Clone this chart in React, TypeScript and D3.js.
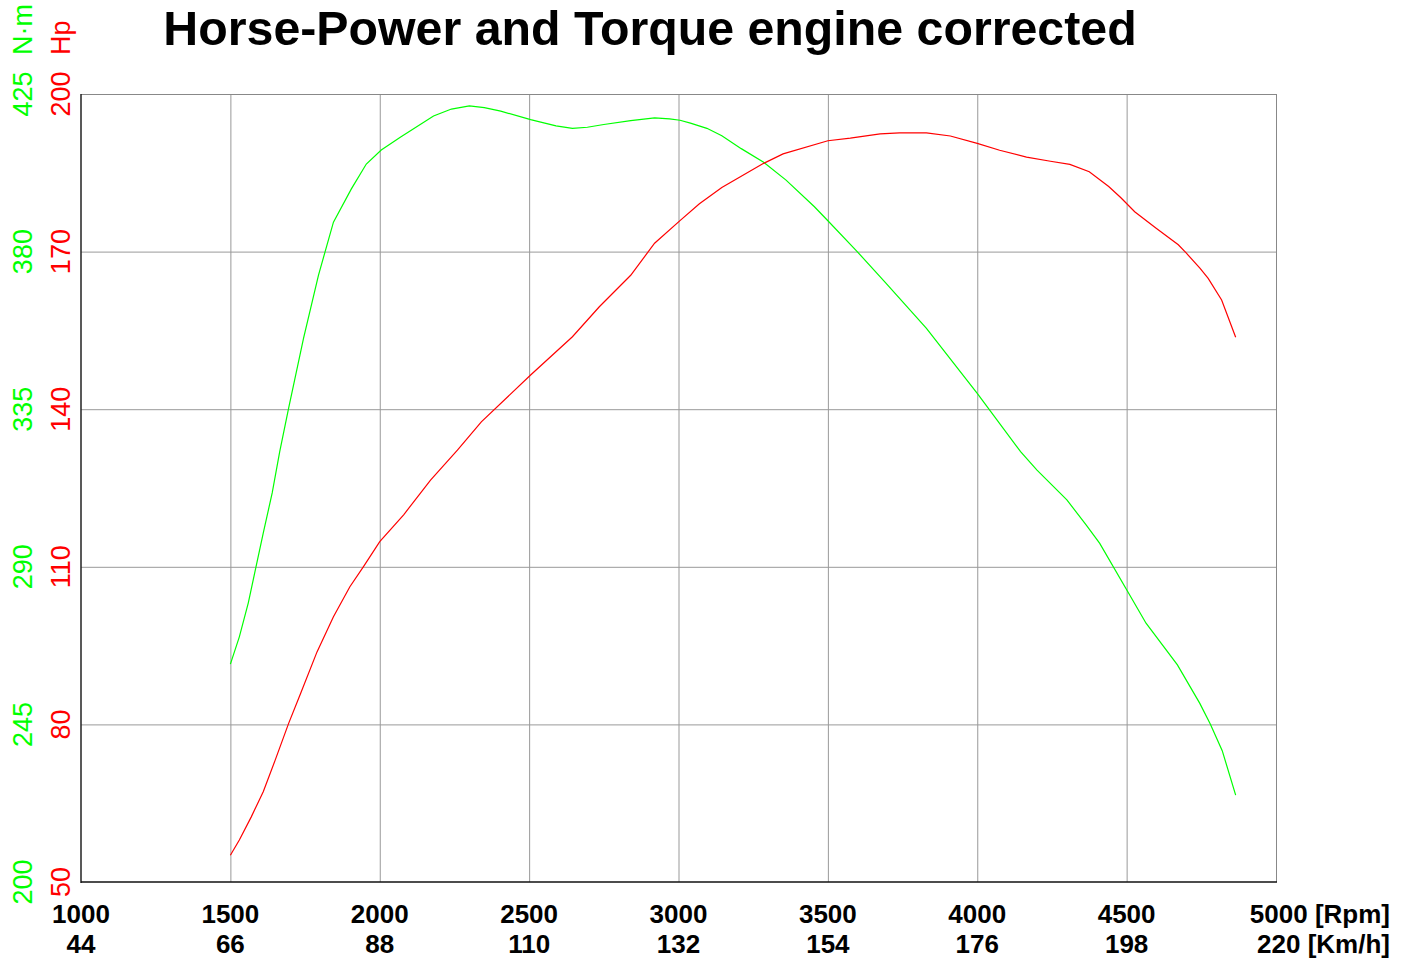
import React, { useEffect, useRef } from "react";
import * as d3 from "d3";

const title = "Horse-Power and Torque engine corrected";

const rpmTicks = [1000, 1500, 2000, 2500, 3000, 3500, 4000, 4500, 5000];
const kmhLabels = [44, 66, 88, 110, 132, 154, 176, 198, 220];
const hpTicks = [50, 80, 110, 140, 170, 200];
const nmLabels = [200, 245, 290, 335, 380, 425];

// torque curve (N·m)
const torqueRpm = [1500, 1530, 1560, 1585, 1610, 1640, 1665, 1695, 1715, 1745, 1795, 1845, 1905, 1955, 2005, 2070, 2180, 2240, 2300, 2350, 2405, 2505, 2590, 2645, 2695, 2750, 2840, 2920, 2970, 3005, 3040, 3095, 3145, 3210, 3285, 3360, 3455, 3500, 3595, 3695, 3830, 4000, 4145, 4200, 4300, 4365, 4410, 4520, 4565, 4670, 4745, 4780, 4820, 4865];
const torqueNm = [262.2, 270.0, 279.7, 289.7, 299.6, 311.1, 322.8, 335.3, 343.3, 355.3, 373.3, 388.4, 397.9, 405.0, 409.0, 412.7, 418.7, 420.7, 421.6, 421.1, 420.1, 417.7, 415.9, 415.2, 415.5, 416.3, 417.4, 418.2, 417.9, 417.5, 416.7, 415.2, 413.1, 409.4, 405.5, 400.4, 392.8, 388.8, 380.3, 370.9, 358.1, 339.5, 322.9, 317.6, 309.1, 301.9, 296.7, 280.5, 273.9, 262.0, 251.0, 245.1, 237.5, 224.8];

// power curve (Hp)
const powerRpm = [1500, 1530, 1570, 1610, 1650, 1695, 1735, 1790, 1845, 1900, 1945, 2000, 2080, 2170, 2260, 2340, 2505, 2645, 2735, 2840, 2920, 3005, 3070, 3145, 3285, 3350, 3500, 3575, 3675, 3740, 3830, 3910, 4000, 4075, 4165, 4245, 4310, 4375, 4440, 4480, 4527, 4600, 4673, 4700, 4746, 4773, 4818, 4865];
const powerHp = [55.1, 58.0, 62.4, 67.2, 73.2, 80.2, 85.9, 93.8, 100.5, 106.2, 110.0, 114.8, 119.9, 126.5, 132.2, 137.6, 146.5, 153.8, 159.5, 165.5, 171.6, 175.9, 179.1, 182.2, 186.8, 188.6, 191.1, 191.6, 192.4, 192.6, 192.6, 192.0, 190.6, 189.3, 188.0, 187.2, 186.6, 185.2, 182.4, 180.3, 177.6, 174.4, 171.3, 169.7, 166.8, 164.9, 160.8, 153.7];

const width = 1406;
const height = 960;
const marginTop = 94;
const marginRight = 130;
const marginBottom = 78;
const marginLeft = 81;
const font = "'Liberation Sans', Arial, sans-serif";

const App = () => {
  const svgRef = useRef<SVGSVGElement>(null);

  useEffect(() => {
    const svg = d3.select(svgRef.current);
    svg.selectAll("*").remove();

    const x = d3.scaleLinear().domain([1000, 5000]).range([marginLeft, width - marginRight]);
    const yHp = d3.scaleLinear().domain([50, 200]).range([height - marginBottom, marginTop]);
    const yNm = d3.scaleLinear().domain([200, 425]).range([height - marginBottom, marginTop]);

    const x0 = x(1000), x1 = x(5000), y0 = yHp(50), y1 = yHp(200);

    // grid
    svg.append("g")
      .selectAll("line")
      .data(rpmTicks.slice(1, -1))
      .join("line")
      .attr("x1", d => x(d) + 0.5).attr("x2", d => x(d) + 0.5)
      .attr("y1", y1).attr("y2", y0)
      .attr("stroke", "#999").attr("stroke-width", 1);

    svg.append("g")
      .selectAll("line")
      .data(hpTicks.slice(1, -1))
      .join("line")
      .attr("x1", x0).attr("x2", x1)
      .attr("y1", d => yHp(d) + 0.5).attr("y2", d => yHp(d) + 0.5)
      .attr("stroke", "#999").attr("stroke-width", 1);

    // frame
    svg.append("line").attr("x1", x0).attr("x2", x1).attr("y1", y1 + 0.5).attr("y2", y1 + 0.5).attr("stroke", "#888");
    svg.append("line").attr("x1", x1 + 0.5).attr("x2", x1 + 0.5).attr("y1", y1).attr("y2", y0).attr("stroke", "#888");
    svg.append("line").attr("x1", x0).attr("x2", x0).attr("y1", y1).attr("y2", y0 + 1).attr("stroke", "#222").attr("stroke-width", 1.5);
    svg.append("line").attr("x1", x0).attr("x2", x1 + 1).attr("y1", y0).attr("y2", y0).attr("stroke", "#111").attr("stroke-width", 1.5);

    // curves
    const torque = torqueRpm.map((r, i) => [x(r), yNm(torqueNm[i])] as [number, number]);
    const power = powerRpm.map((r, i) => [x(r), yHp(powerHp[i])] as [number, number]);
    const line = d3.line();

    svg.append("path").attr("d", line(torque)).attr("fill", "none").attr("stroke", "#00ff00").attr("stroke-width", 1.2);
    svg.append("path").attr("d", line(power)).attr("fill", "none").attr("stroke", "#ff0000").attr("stroke-width", 1.2);

    // title
    svg.append("text")
      .attr("x", 650).attr("y", 45)
      .attr("text-anchor", "middle")
      .style("font-family", font).style("font-weight", "bold").style("font-size", "48.3px")
      .text(title);

    // x labels
    const xl = svg.append("g").style("font-family", font).style("font-weight", "bold").style("font-size", "26px");
    rpmTicks.forEach((r, i) => {
      const last = i === rpmTicks.length - 1;
      xl.append("text")
        .attr("x", last ? 1390 : x(r)).attr("y", 923)
        .attr("text-anchor", last ? "end" : "middle")
        .text(last ? `${r} [Rpm]` : `${r}`);
      xl.append("text")
        .attr("x", last ? 1390 : x(r)).attr("y", 953)
        .attr("text-anchor", last ? "end" : "middle")
        .text(last ? `${kmhLabels[i]} [Km/h]` : `${kmhLabels[i]}`);
    });

    // y labels (rotated)
    const yl = svg.append("g").style("font-family", font).style("font-size", "27px");
    hpTicks.forEach((h, i) => {
      const yy = yHp(h);
      yl.append("text")
        .attr("transform", `translate(32,${yy}) rotate(-90)`)
        .attr("text-anchor", "middle")
        .attr("fill", "#00ff00")
        .text(nmLabels[i]);
      yl.append("text")
        .attr("transform", `translate(70,${yy}) rotate(-90)`)
        .attr("text-anchor", "middle")
        .attr("fill", "#ff0000")
        .text(h);
    });
    yl.append("text")
      .attr("transform", "translate(32,55) rotate(-90)")
      .attr("fill", "#00ff00")
      .text("N·m");
    yl.append("text")
      .attr("transform", "translate(70,55) rotate(-90)")
      .attr("fill", "#ff0000")
      .text("Hp");
  }, []);

  return (
    <svg
      ref={svgRef}
      width={width}
      height={height}
      style={{ position: "absolute", left: 0, top: 0, background: "#fff" }}
    />
  );
};

export default App;
